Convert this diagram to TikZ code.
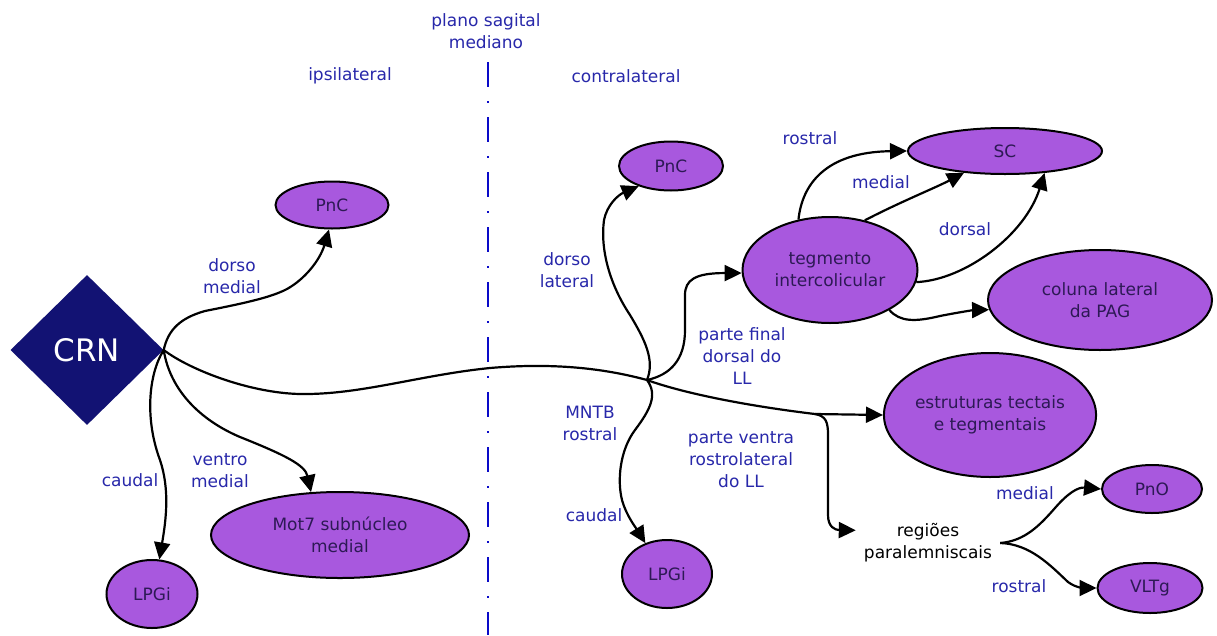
\documentclass[tikz,border=0pt]{standalone}
\usepackage{fontspec}
\setmainfont{DejaVu Sans}
\usetikzlibrary{shapes.geometric,arrows.meta}
\definecolor{lblue}{RGB}{40,40,170}
\definecolor{planeblue}{RGB}{10,10,200}
\definecolor{nucfill}{RGB}{168,88,222}
\definecolor{nuctext}{RGB}{45,25,85}
\definecolor{crnfill}{RGB}{18,18,115}
\tikzset{
  nuc/.style={ellipse, draw=black, line width=2pt, fill=nucfill, text=nuctext, inner sep=0pt, align=center, font=\fontsize{17}{22}\selectfont},
  lbl/.style={text=lblue, align=center, inner sep=0pt, font=\fontsize{17}{22}\selectfont},
  conn/.style={draw=black, line width=2.2pt, -{Triangle[length=17pt,width=16pt]}},
  plain/.style={draw=black, line width=2.2pt},
  plane/.style={draw=planeblue, line width=2.2pt, dash pattern=on 25pt off 14pt on 2pt off 14pt}
}
\begin{document}
\begin{tikzpicture}[x=1pt,y=-1pt]
\useasboundingbox (0,0) rectangle (1217,635);
\fill[white] (0,0) rectangle (1217,635);

% median plane
\coordinate (mtop) at (488,62);
\coordinate (mbot) at (488,635);
\draw[plane] (mtop) -- (mbot);

% CRN
\node[diamond, fill=crnfill, text=white, minimum width=153pt, minimum height=150pt, inner sep=0pt, font=\fontsize{31}{31}\selectfont] (crn) at (87,350) {CRN};

% ipsilateral nuclei
\node[nuc, minimum width=113pt, minimum height=47pt] (pncL) at (332,205) {PnC};
\node[nuc, minimum width=91pt, minimum height=68pt] (lpgiL) at (152,594) {LPGi};
\node[nuc, minimum width=258pt, minimum height=86pt] (mot7) at (340,535) {Mot7 subnúcleo\\medial};

% contralateral nuclei
\node[nuc, minimum width=104pt, minimum height=49pt] (pncR) at (671,166) {PnC};
\node[nuc, minimum width=194pt, minimum height=46pt] (sc) at (1005,151) {SC};
\node[nuc, minimum width=175pt, minimum height=106pt] (teg) at (830,270) {tegmento\\intercolicular};
\node[nuc, minimum width=224pt, minimum height=100pt] (col) at (1100,300) {coluna lateral\\da PAG};
\node[nuc, minimum width=203pt, minimum height=124pt] (est) at (990,415) {estruturas tectais\\e tegmentais};
\node[nuc, minimum width=90pt, minimum height=68pt] (lpgiR) at (667,574) {LPGi};
\node[nuc, minimum width=100pt, minimum height=48pt] (pno) at (1152,489) {PnO};
\node[nuc, minimum width=105pt, minimum height=50pt] (vltg) at (1150,588) {VLTg};
\node[align=center, inner sep=8pt, text=black, font=\fontsize{17}{22}\selectfont] (reg) at (928,543) {regiões\\paralemniscais};

% junctions
\coordinate (J) at (647,380);
\coordinate (K) at (815,414);

% labels
\node[lbl] (lplane) at (486,31) {plano sagital\\mediano};
\node[lbl] (lipsi) at (350,76) {ipsilateral};
\node[lbl] (lcontra) at (626,76) {contralateral};
\node[lbl] (ldm) at (232,276) {dorso\\medial};
\node[lbl] (ldl) at (567,270) {dorso\\lateral};
\node[lbl] (lcaudL) at (130,480) {caudal};
\node[lbl] (lvm) at (220,471) {ventro\\medial};
\node[lbl] (lmntb) at (590,423) {MNTB\\rostral};
\node[lbl] (lcaudR) at (594,515) {caudal};
\node[lbl] (lpfd) at (742,356) {parte final\\dorsal do\\LL};
\node[lbl] (lpvr) at (741,460) {parte ventra\\rostrolateral\\do LL};
\node[lbl] (lrosT) at (810,138) {rostral};
\node[lbl] (lmedT) at (881,182) {medial};
\node[lbl] (ldorT) at (965,229) {dorsal};
\node[lbl] (lmedB) at (1025,493) {medial};
\node[lbl] (lrosB) at (1019,586) {rostral};

% ipsilateral connectors
\draw[conn] (crn.east) .. controls (168,330) and (180,318) .. (205,311)
  .. controls (240,304) and (270,298) .. (287,289)
  .. controls (305,279) and (320,260) .. (pncL.-97);
\draw[conn] (crn.east) .. controls (148,375) and (145,420) .. (160,460)
  .. controls (170,490) and (166,520) .. (lpgiL.78);
\draw[conn] (crn.east) .. controls (170,390) and (200,420) .. (240,437)
  .. controls (285,455) and (305,465) .. (mot7.124);
\draw[plain] (crn.east) .. controls (190,370) and (250,393) .. (300,394)
  .. controls (360,395) and (420,375) .. (490,368)
  .. controls (560,362) and (610,370) .. (J);

% contralateral connectors
\draw[conn] (J) .. controls (655,360) and (645,340) .. (630,315)
  .. controls (610,285) and (600,250) .. (604,220)
  .. controls (607,205) and (618,195) .. (pncR.212);
\draw[conn] (J) .. controls (670,375) and (685,360) .. (685,330) -- (685,295)
  .. controls (685,280) and (695,273) .. (teg.182);
\draw[conn] (J) .. controls (680,392) and (740,405) .. (K) -- (est.west);
\draw[conn] (K) .. controls (826,416) and (828,422) .. (828,435) -- (828,515)
  .. controls (828,527) and (835,530) .. (reg.170);
\draw[conn] (J) .. controls (658,395) and (650,410) .. (635,430)
  .. controls (620,450) and (617,480) .. (622,500)
  .. controls (626,515) and (636,528) .. (lpgiR.125);

% from tegmento
\draw[conn] (teg.122) .. controls (802,185) and (825,152) .. (sc.west);
\draw[conn] (teg.55) .. controls (900,202) and (935,188) .. (sc.208);
\draw[conn] (teg.-8) .. controls (965,280) and (1025,235) .. (sc.-29);
\draw[conn] (teg.-34) .. controls (900,322) and (915,322) .. (940,316)
  .. controls (960,312) and (975,310) .. (col.185);

% from regioes
\draw[conn] (reg.east) .. controls (1025,541) and (1040,525) .. (1055,508)
  .. controls (1068,493) and (1078,487) .. (pno.west);
\draw[conn] (reg.east) .. controls (1030,544) and (1050,565) .. (1068,582)
  .. controls (1076,588) and (1085,588) .. (vltg.west);
\end{tikzpicture}
\end{document}
